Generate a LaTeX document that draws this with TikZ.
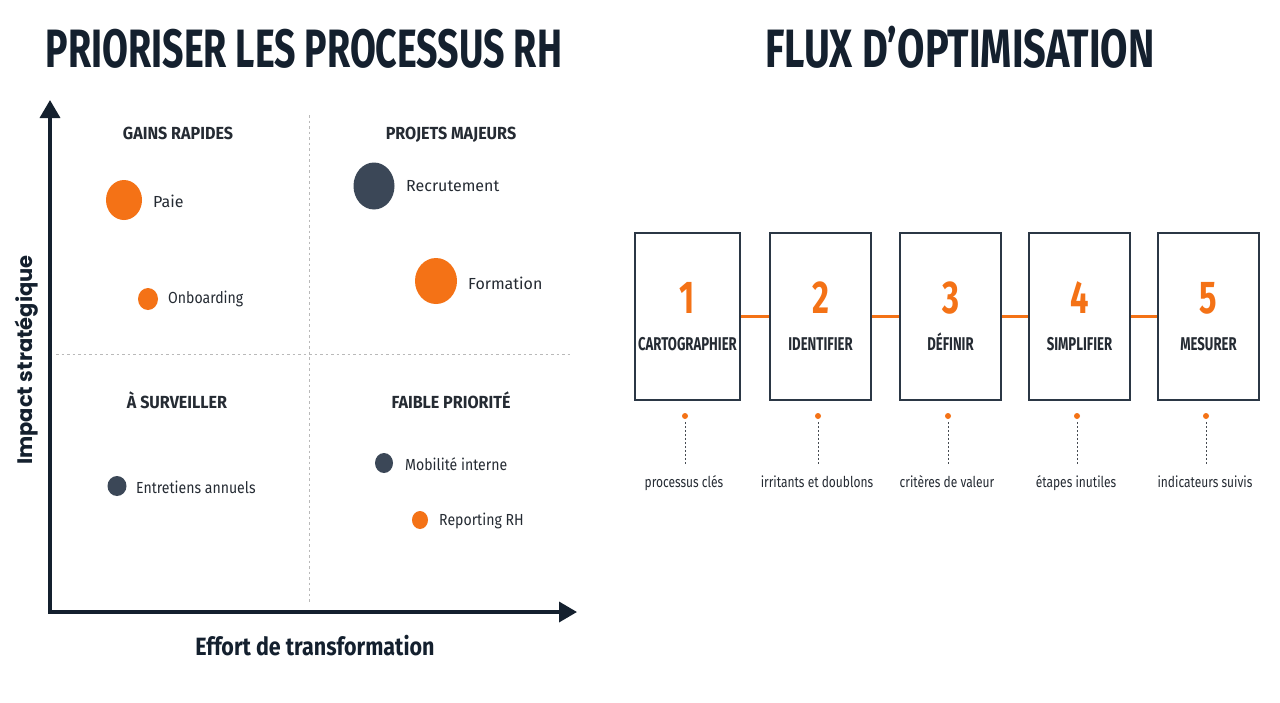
\documentclass[tikz,border=0pt]{standalone}
\usepackage{fontspec}
\setmainfont{Fira Sans}
\newfontfamily\titlefont[FakeStretch=0.71]{Fira Sans}
\newfontfamily\titleAfont[FakeStretch=0.695]{Fira Sans}
\newfontfamily\titleBfont[FakeStretch=0.735]{Fira Sans}
\newfontfamily\condfont[FakeStretch=0.8]{Fira Sans}
\newfontfamily\axfont[FakeStretch=0.86]{Fira Sans}
\newfontfamily\midfont[FakeStretch=0.92]{Fira Sans}
\newfontfamily\itemfont[FakeStretch=0.88]{Fira Sans}
\newfontfamily\geofont{Poppins}
\usetikzlibrary{arrows.meta,shapes.geometric}
\definecolor{navy}{HTML}{14202E}
\definecolor{darkdot}{HTML}{3B4757}
\definecolor{orng}{HTML}{F47216}
\definecolor{boxline}{HTML}{2B3745}
\definecolor{txt}{HTML}{252B33}
\tikzset{
  maintitle/.style={font=\bfseries\fontsize{54}{54}\selectfont, text=navy, inner sep=0pt, anchor=base},
  axisline/.style={line width=3.5pt, draw=navy, -{Triangle[length=18pt,width=20pt]}},
  quadsep/.style={draw=gray!55, line width=0.8pt, dash pattern=on 2.5pt off 3pt},
  quadlbl/.style={font=\midfont\bfseries\fontsize{17.5}{19}\selectfont, text=txt, inner sep=0pt, anchor=base},
  blob/.style={ellipse, inner sep=0pt, draw=none},
  orangeblob/.style={blob, fill=orng},
  darkblob/.style={blob, fill=darkdot},
  itemlbl/.style={font=\fontsize{16}{18}\selectfont, text=txt, anchor=west, inner sep=0pt},
  smallitem/.style={itemlbl, font=\itemfont\fontsize{16}{18}\selectfont},
  stepbox/.style={draw=boxline, line width=1.6pt, minimum width=102pt, minimum height=167pt, inner sep=0pt},
  stepnum/.style={font=\titlefont\bfseries\fontsize{46}{46}\selectfont, text=orng, inner sep=0pt, anchor=base},
  steplbl/.style={font=\titlefont\bfseries\fontsize{18.5}{20}\selectfont, text=txt, inner sep=0pt, anchor=base},
  link/.style={draw=orng, line width=2.5pt},
  smalldot/.style={circle, fill=orng, minimum size=6pt, inner sep=0pt},
  dotline/.style={draw=txt!85, line width=1pt, dash pattern=on 1.5pt off 2.5pt},
  notelbl/.style={font=\condfont\fontsize{15}{17}\selectfont, text=txt, inner sep=0pt, anchor=base},
}
\begin{document}
\begin{tikzpicture}[x=1pt,y=-1pt]
\fill[white] (0,0) rectangle (1280,702);
\useasboundingbox (0,0) rectangle (1280,702);

% titles
\node[maintitle, font=\titleAfont\bfseries\fontsize{54}{54}\selectfont] (t1) at (304,67) {PRIORISER LES PROCESSUS RH};
\node[maintitle, font=\titleBfont\bfseries\fontsize{54}{54}\selectfont] (t2) at (960,67) {FLUX D’OPTIMISATION};

% matrix grid
\coordinate (vtop) at (309,115);
\coordinate (vbot) at (309,602);
\coordinate (hl) at (56,354);
\coordinate (hr) at (572,354);
\draw[quadsep] (vtop) -- (vbot);
\draw[quadsep] (hl) -- (hr);

% axes
\coordinate (O) at (50,612);
\coordinate (ytip) at (50,100);
\coordinate (xtip) at (577,612);
\draw[axisline] (50,613.75) -- (ytip);
\draw[axisline] (48.25,612) -- (xtip);

\node[font=\geofont\bfseries\fontsize{21}{23}\selectfont, text=navy, rotate=90, inner sep=0pt] (ylab) at (27,360) {Impact stratégique};
\node[font=\axfont\bfseries\fontsize{25}{27}\selectfont, text=navy, inner sep=0pt] (xlab) at (315,646) {Effort de transformation};

% quadrant labels
\node[quadlbl] (q1) at (178,139) {GAINS RAPIDES};
\node[quadlbl] (q2) at (451,139) {PROJETS MAJEURS};
\node[quadlbl] (q3) at (177,408) {À SURVEILLER};
\node[quadlbl] (q4) at (451,408) {FAIBLE PRIORITÉ};

% items
\node[orangeblob, minimum width=36pt, minimum height=40pt] (paie) at (124,200) {};
\node[itemlbl] (paieL) at (153,201) {Paie};
\node[orangeblob, minimum width=20pt, minimum height=22pt] (onb) at (148,299) {};
\node[smallitem] (onbL) at (168,299) {Onboarding};
\node[darkblob, minimum width=41pt, minimum height=47pt] (rec) at (374,186) {};
\node[itemlbl] (recL) at (406,186) {Recrutement};
\node[orangeblob, minimum width=42pt, minimum height=46pt] (form) at (436,281) {};
\node[itemlbl] (formL) at (468,283) {Formation};
\node[darkblob, minimum width=19pt, minimum height=20pt] (ent) at (117,486) {};
\node[smallitem] (entL) at (136,487) {Entretiens annuels};
\node[darkblob, minimum width=18pt, minimum height=20pt] (mob) at (384,463) {};
\node[smallitem] (mobL) at (405,464) {Mobilité interne};
\node[orangeblob, minimum width=16pt, minimum height=18pt] (rep) at (420,520) {};
\node[smallitem] (repL) at (439,521) {Reporting RH};

% flow
\foreach \i/\x/\w/\name/\note in {
  1/687.5/105/CARTOGRAPHIER/processus clés,
  2/820.5/101/IDENTIFIER/irritants et doublons,
  3/950.5/101/DÉFINIR/critères de valeur,
  4/1079.5/101/SIMPLIFIER/étapes inutiles,
  5/1208.5/101/MESURER/indicateurs suivis}{
  \node[stepbox, minimum width=\w pt] (b\i) at (\x,316.5) {};
  \node[stepnum] (n\i) at (\x,313) {\i};
  \node[steplbl] (s\i) at (\x,350) {\name};
  \node[smalldot] (d\i) at (\x-2.5,416) {};
  \node[notelbl] (l\i) at (\x-3.5,487) {\note};
  \coordinate (e\i) at (\x-2.5,466);
  \draw[dotline] (d\i.south) ++(0,3) -- (e\i);
}
\draw[link] (b1.east) -- (b2.west);
\draw[link] (b2.east) -- (b3.west);
\draw[link] (b3.east) -- (b4.west);
\draw[link] (b4.east) -- (b5.west);
\end{tikzpicture}
\end{document}
